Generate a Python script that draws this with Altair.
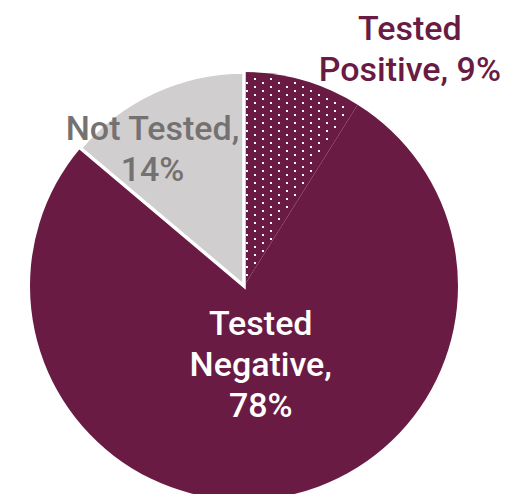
import math
import altair as alt
import pandas as pd

# ---- data ----
categories = ["Tested Positive", "Tested Negative", "Not Tested"]
values = [9, 78, 14]
labels = ["Tested\nPositive, 9%", "Tested\nNegative,\n78%", "Not Tested,\n14%"]
order = [0, 1, 2]

MAROON = "#6A1B43"
GRAY = "#D0CECE"
GRAY_TEXT = "#767171"

df = pd.DataFrame({"cat": categories, "value": values, "label": labels, "order": order})

CX, CY, R = 236, 278, 214

arc = alt.Chart(df).mark_arc(outerRadius=R, stroke="white").encode(
    theta=alt.Theta("value:Q", stack=True),
    order=alt.Order("order:Q"),
    color=alt.Color("cat:N", scale=alt.Scale(domain=categories, range=[MAROON, MAROON, GRAY]), legend=None),
    strokeWidth=alt.condition(alt.datum.cat == "Not Tested", alt.value(3.5), alt.value(0)),
    x=alt.value(CX),
    y=alt.value(CY),
)

# dotted texture for the "Tested Positive" slice
theta_end = 2 * math.pi * values[0] / sum(values)
COLS, ROWS = 9, 55
dots = (
    alt.Chart(alt.sequence(0, COLS * ROWS, as_="n"))
    .transform_calculate(k=f"datum.n % {COLS}", j=f"floor(datum.n / {COLS})")
    .transform_calculate(
        px=f"{CX} + 3 + 16*datum.k + 8*(datum.j % 2)",
        py=f"{CY} - 3 - 4*datum.j",
    )
    .transform_calculate(ddx=f"datum.px - {CX}", ddy=f"{CY} - datum.py")
    .transform_filter(
        f"sqrt(datum.ddx*datum.ddx + datum.ddy*datum.ddy) < {R - 3} && "
        f"atan2(datum.ddx, datum.ddy) < {theta_end - 0.03} && datum.ddx > 2"
    )
    .mark_square(size=4, color="white", opacity=1, strokeWidth=0)
    .encode(x=alt.X("px:Q", scale=None, axis=None), y=alt.Y("py:Q", scale=None, axis=None))
)

label_specs = [
    # category, radius, dx, dy, color
    ("Tested Positive", 260, 94, 4, MAROON),
    ("Tested Negative", 50, 9, 0, "white"),
    ("Not Tested", 160, -24, -1, GRAY_TEXT),
]

texts = []
for cat, rad, dx, dy, col in label_specs:
    t = alt.Chart(df).mark_text(
        radius=rad, dx=dx, dy=dy, align="center", baseline="alphabetic",
        lineBreak="\n", font="Roboto", fontWeight=500, fontSize=34, lineHeight=41, color=col,
    ).encode(
        theta=alt.Theta("value:Q", stack=True),
        order=alt.Order("order:Q"),
        text=alt.condition(alt.datum.cat == cat, "label:N", alt.value("")),
        x=alt.value(CX),
        y=alt.value(CY),
    )
    texts.append(t)

chart = alt.layer(arc, dots, *texts).properties(
    width=512, height=486, padding=0, autosize=alt.AutoSizeParams(type="none")
).configure_view(stroke=None)

chart.save("out.html", embed_options={"renderer": "svg", "actions": False})
